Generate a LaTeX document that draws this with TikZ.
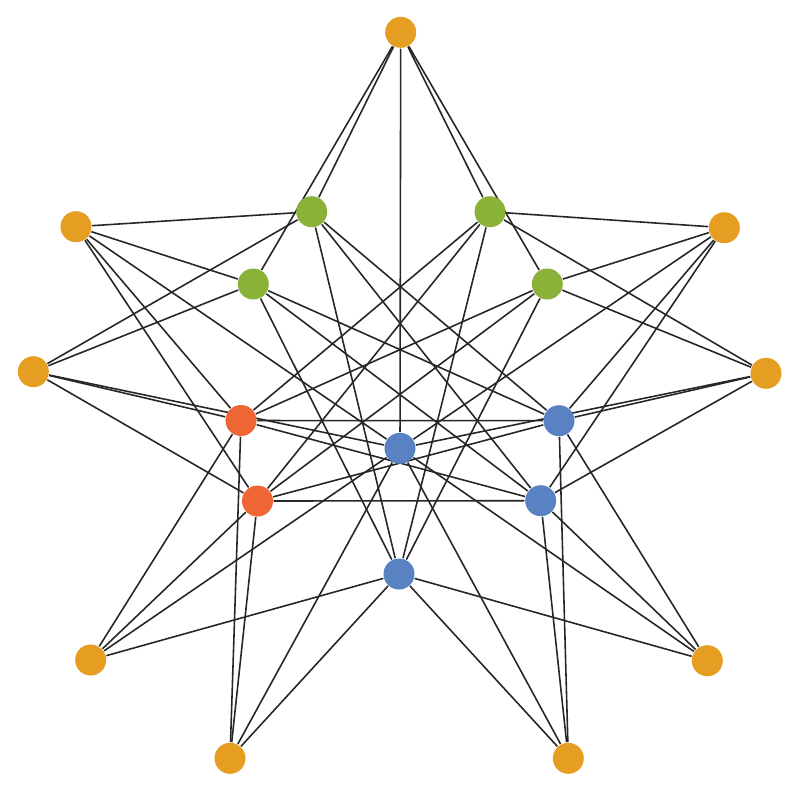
\documentclass[tikz,border=0pt]{standalone}
\usepackage{tikz}
\usetikzlibrary{backgrounds}

\definecolor{dotorange}{RGB}{230,158,34}
\definecolor{dotgreen}{RGB}{139,178,56}
\definecolor{dotred}{RGB}{237,102,52}
\definecolor{dotblue}{RGB}{88,130,194}

\tikzset{
  dot/.style = {shape = circle, minimum size = 0.31cm, inner sep = 0pt, draw = none},
  outer/.style = {dot, fill = dotorange},
  inngreen/.style = {dot, fill = dotgreen},
  innred/.style = {dot, fill = dotred},
  innblue/.style = {dot, fill = dotblue},
  link/.style = {draw = black!85, line width = 0.45pt}
}

\begin{document}
\begin{tikzpicture}[x = 0.01cm, y = -0.01cm]
\useasboundingbox (0,0) rectangle (800,793);
\node[outer] (1) at (400.7,32.3) {};
\node[outer] (2) at (76,226.7) {};
\node[outer] (3) at (724.3,227.7) {};
\node[outer] (4) at (33.3,371.7) {};
\node[outer] (5) at (766,373.3) {};
\node[outer] (6) at (90.7,660) {};
\node[outer] (7) at (707.3,660.7) {};
\node[outer] (8) at (230,758.3) {};
\node[outer] (9) at (568.3,758.3) {};
\node[inngreen] (10) at (311.7,211.7) {};
\node[inngreen] (11) at (490,211.7) {};
\node[inngreen] (12) at (253.3,284) {};
\node[inngreen] (13) at (547.3,284) {};
\node[innred] (14) at (241,420.5) {};
\node[innred] (15) at (257.5,501) {};
\node[innblue] (16) at (400,448.3) {};
\node[innblue] (17) at (559,420.7) {};
\node[innblue] (18) at (540.7,500.7) {};
\node[innblue] (19) at (399,574) {};
\begin{scope}[on background layer, every edge/.style = {link}]
\path (1) edge (10) edge (11) edge (12) edge (13) edge (16);
\path (2) edge (10) edge (12) edge (14) edge (15) edge (16);
\path (4) edge (10) edge (12) edge (14) edge (15) edge (16);
\path (3) edge (11) edge (13) edge (17) edge (18) edge (16);
\path (5) edge (11) edge (13) edge (17) edge (18) edge (16);
\path (6) edge (14) edge (15) edge (16) edge (19);
\path (8) edge (14) edge (15) edge (16) edge (19);
\path (7) edge (17) edge (18) edge (16) edge (19);
\path (9) edge (17) edge (18) edge (16) edge (19);
\path (19) edge (10) edge (11) edge (12) edge (13);
\path (14) edge (17) edge (18) edge (11) edge (13);
\path (15) edge (17) edge (18) edge (11) edge (13);
\path (17) edge (10) edge (12);
\path (18) edge (10) edge (12);
\end{scope}
\end{tikzpicture}
\end{document}
